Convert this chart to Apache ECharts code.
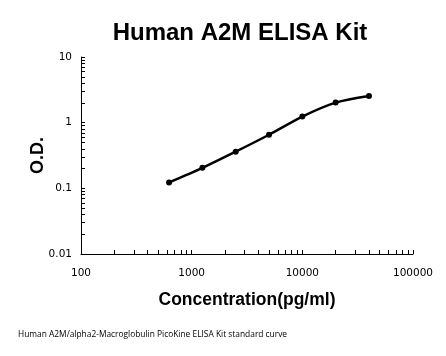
<!DOCTYPE html>
<html>
<head>
<meta charset="utf-8">
<script src="https://cdn.jsdelivr.net/npm/echarts@6/dist/echarts.min.js"></script>
<style>html,body{margin:0;padding:0;background:#fff}#c{width:446px;height:356px}</style>
</head>
<body>
<div id="c"></div>
<script>
var concentrations = [625, 1250, 2500, 5000, 10000, 20000, 40000];
var odValues = [0.123, 0.205, 0.362, 0.655, 1.24, 2.02, 2.55];
var xTickLabels = [100, 1000, 10000, 100000];
var yTickLabels = [0.01, 0.1, 1, 10];

function logTicks(lo, hi) {
  var out = [];
  for (var d = lo; d < hi; d *= 10) {
    for (var m = 1; m < 10; m++) out.push(+(m * d).toPrecision(3));
  }
  out.push(hi);
  return out;
}
var xTicks = logTicks(100, 100000);
var yTicks = logTicks(0.01, 10);

var chart = echarts.init(document.getElementById('c'), null, {renderer: 'canvas'});
chart.setOption({
  animation: false,
  backgroundColor: '#fff',
  title: [{
    text: 'Human A2M ELISA Kit',
    left: 235, top: 16, textAlign: 'center',
    textStyle: {fontFamily: 'Liberation Sans', fontWeight: 'bold', fontSize: 24, color: '#000'}
  }, {
    text: 'Human A2M/alpha2-Macroglobulin PicoKine ELISA Kit standard curve',
    left: 13, top: 326,
    textStyle: {fontFamily: 'Open Sans', fontWeight: 'normal', fontSize: 8.4, color: '#000'}
  }],
  grid: {left: 81, right: 33, top: 57, bottom: 102, containLabel: false},
  xAxis: {
    type: 'log', logBase: 10, min: 100, max: 100000,
    name: 'Concentration(pg/ml)', nameLocation: 'middle', nameGap: 37,
    nameTextStyle: {fontFamily: 'Liberation Sans', fontWeight: 'bold', fontSize: 17.5, color: '#000'},
    axisLine: {lineStyle: {color: '#000', width: 1}},
    axisTick: {inside: true, length: 4, lineStyle: {color: '#000'}, customValues: xTicks},
    axisLabel: {customValues: xTickLabels, margin: 14, fontFamily: 'DejaVu Sans', fontSize: 10.5, color: '#000',
      formatter: function (v) { return String(v); }},
    splitLine: {show: false}
  },
  yAxis: {
    type: 'log', logBase: 10, min: 0.01, max: 10,
    name: 'O.D.', nameLocation: 'middle', nameGap: 34, nameRotate: 90, nameMoveOverlap: false,
    nameTextStyle: {fontFamily: 'Liberation Sans', fontWeight: 'bold', fontSize: 18, color: '#000'},
    axisLine: {show: true, lineStyle: {color: '#000', width: 1}},
    axisTick: {show: true, inside: true, length: 4, lineStyle: {color: '#000'}, customValues: yTicks},
    axisLabel: {customValues: yTickLabels, margin: 9, fontFamily: 'DejaVu Sans', fontSize: 10.5, color: '#000',
      formatter: function (v) { return String(v); }},
    splitLine: {show: false}
  },
  series: [{
    type: 'line',
    data: concentrations.map(function (c, i) { return [c, odValues[i]]; }),
    smooth: 0.3,
    symbol: 'circle', symbolSize: 6,
    lineStyle: {color: '#000', width: 2.5},
    itemStyle: {color: '#000'}
  }]
});
</script>
</body>
</html>
